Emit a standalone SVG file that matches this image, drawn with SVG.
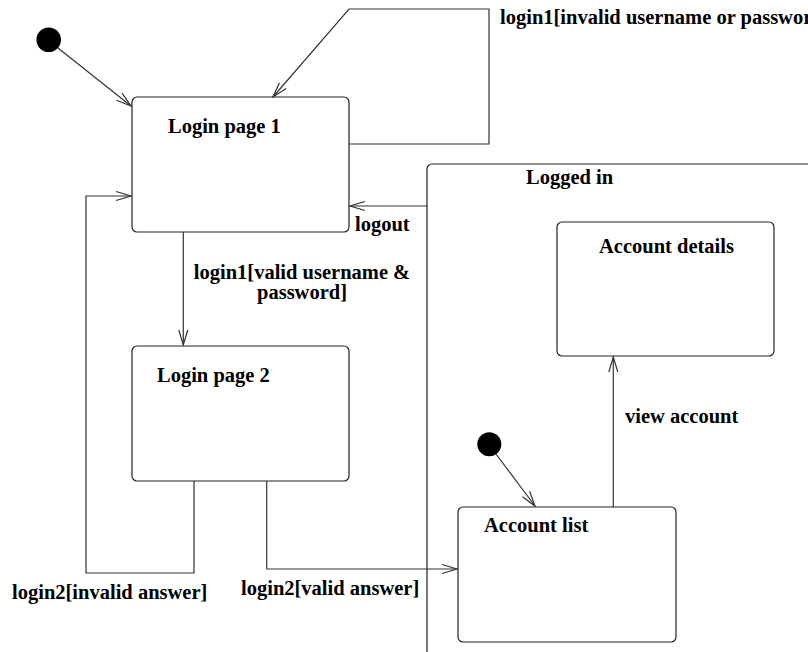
<svg xmlns="http://www.w3.org/2000/svg" width="808" height="652" viewBox="0 0 808 652">
<style>
.st{fill:#fff;stroke:#222;stroke-width:1.2}
.cn{fill:none;stroke:#333;stroke-width:1.2}
text{font-family:"Liberation Serif","Times New Roman",serif;font-weight:bold;font-size:20.5px;fill:#000}
.init{fill:#000}
</style>
<defs>
<marker id="arr" markerUnits="userSpaceOnUse" markerWidth="18" markerHeight="12" refX="15" refY="4.5" orient="auto" overflow="visible">
<path d="M0,0 L15,4.5 L0,9" fill="none" stroke="#333" stroke-width="1.2"/>
</marker>
</defs>
<rect width="808" height="652" fill="#fff"/>
<g id="logged-in">
<rect class="st" x="427" y="164" width="420" height="520" rx="5"/>
<text x="526" y="184">Logged in</text>
</g>
<g id="init1"><circle class="init" cx="48.7" cy="39.7" r="12.3"/></g>
<g id="login-page-1">
<rect class="st" x="132" y="97" width="217" height="135" rx="5"/>
<text x="168" y="133">Login page 1</text>
</g>
<g id="login-page-2">
<rect class="st" x="132" y="346" width="217" height="135" rx="5"/>
<text x="157" y="382">Login page 2</text>
</g>
<g id="account-details">
<rect class="st" x="557" y="222" width="217" height="134" rx="5"/>
<text x="599" y="253">Account details</text>
</g>
<g id="init2"><circle class="init" cx="489.3" cy="444.3" r="12"/></g>
<g id="account-list">
<rect class="st" x="458" y="507" width="218" height="135" rx="5"/>
<text x="484" y="532">Account list</text>
</g>
<g id="connectors">
<path class="cn" d="M58,48 L131,106" marker-end="url(#arr)"/>
<path class="cn" d="M349,144 H489 V9 H349 L273,97" marker-end="url(#arr)"/>
<path class="cn" d="M183.3,232 V345" marker-end="url(#arr)"/>
<path class="cn" d="M194,481 V573 H86 V196 H131" marker-end="url(#arr)"/>
<path class="cn" d="M427,206 H350" marker-end="url(#arr)"/>
<path class="cn" d="M266.7,481 V569 H457" marker-end="url(#arr)"/>
<path class="cn" d="M613.3,507 V357" marker-end="url(#arr)"/>
<path class="cn" d="M496,454 L535,506" marker-end="url(#arr)"/>
<text x="500" y="24">login1[invalid username or password]</text>
<text x="355" y="231">logout</text>
<text x="302" y="279" text-anchor="middle">login1[valid username &amp;</text>
<text x="302" y="299" text-anchor="middle">password]</text>
<text x="12" y="599">login2[invalid answer]</text>
<text x="241" y="595">login2[valid answer]</text>
<text x="625" y="423">view account</text>
</g>
</svg>
